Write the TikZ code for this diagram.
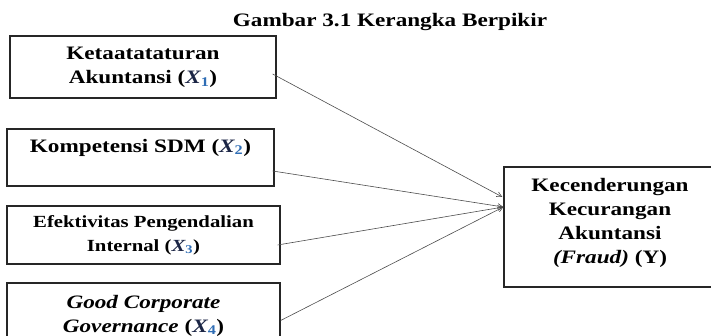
\documentclass[tikz,border=0pt]{standalone}
\usepackage{fontspec}
\setmainfont[FakeStretch=1.22]{Liberation Serif}
\usetikzlibrary{arrows.meta}

% colours of the variable symbols
\definecolor{varink}{HTML}{1B2545}
\definecolor{subink}{HTML}{2F6DB5}
\newcommand{\varX}[1]{{\itshape\color{varink}X}\textsubscript{\color{subink}#1}}

\tikzset{
  fbox/.style={draw=black!85, line width=1.3pt, inner sep=0pt, align=center,
               font=\bfseries\fontsize{19}{24}\selectfont},
  link/.style={draw=black!70, line width=0.6pt,
               -{Straight Barb[length=5pt,width=5pt]}}
}

\begin{document}
\begin{tikzpicture}[x=1pt,y=1pt]
\clip (0,0) rectangle (711,336);

% heading
\node[anchor=base, inner sep=0pt, font=\bfseries\fontsize{19}{24}\selectfont]
  (title) at (390,309) {Gambar 3.1 Kerangka Berpikir};

% independent variables
\node[fbox, minimum width=266pt, minimum height=62pt] (b1) at (143,269)
  {Ketaatataturan\\Akuntansi (\varX{1})};
\node[fbox, minimum width=267pt, minimum height=57pt] (b2) at (140.5,178.5)
  {Kompetensi SDM (\varX{2})\\~};
\node[fbox, minimum width=273pt, minimum height=58pt,
      font=\bfseries\fontsize{17}{24}\selectfont] (b3) at (143.5,101)
  {Efektivitas Pengendalian\\Internal (\varX{3})};
\node[fbox, minimum width=273pt, minimum height=65pt] (b4) at (143.5,20.5)
  {\textit{Good Corporate}\\\textit{Governance} (\varX{4})};

% dependent variable
\node[fbox, minimum width=212pt, minimum height=120pt, text depth=13pt] (by) at (610,109)
  {Kecenderungan\\Kecurangan\\Akuntansi\\\textit{(Fraud)} (Y)};

% influences
\draw[link] ([shift={(-4,-7)}]b1.east) -- ([shift={(-1,30)}]by.west);
\draw[link] ([shift={(-2,-13.5)}]b2.east) -- ([shift={(0,20)}]by.west);
\draw[link] ([shift={(-3,-10)}]b3.east) -- ([shift={(0,20)}]by.west);
\draw[link] ([shift={(0,-5)}]b4.east) -- ([shift={(0,20)}]by.west);
\end{tikzpicture}
\end{document}
